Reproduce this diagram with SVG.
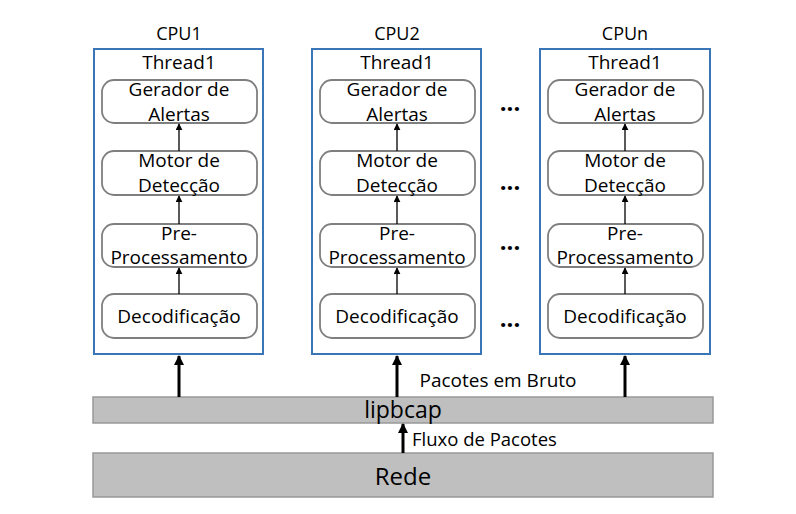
<svg xmlns="http://www.w3.org/2000/svg" width="796" height="514" viewBox="0 0 796 514">
<defs>
<marker id="a" viewBox="0 0 10 10" refX="9" refY="5" markerWidth="7" markerHeight="7" orient="auto" markerUnits="userSpaceOnUse"><path d="M0,0 L10,5 L0,10 z" fill="#000"/></marker>
<marker id="b" viewBox="0 0 10 10" refX="9" refY="5" markerWidth="10" markerHeight="10" orient="auto" markerUnits="userSpaceOnUse"><path d="M0,0 L10,5 L0,10 z" fill="#000"/></marker>
</defs>
<style>
text{font-family:"Open Sans","Liberation Sans",sans-serif;fill:#000;text-anchor:middle}
.cpu{fill:#fff;stroke:#3a75b8;stroke-width:2}
.st{fill:#fff;stroke:#7f7f7f;stroke-width:1.8}
.bar{fill:#bfbfbf;stroke:#999;stroke-width:1.5}
.t{font-size:19px}
.h{font-size:18px}
.thin{stroke:#000;stroke-width:1.3;marker-end:url(#a)}
.thick{stroke:#000;stroke-width:3;marker-end:url(#b)}
.dots{font-size:24px;font-weight:bold}
</style>
<rect width="796" height="514" fill="#fff"/>
<g id="cpu1">
<text x="179" y="40" class="h">CPU1</text>
<rect x="94" y="49" width="169" height="305" class="cpu"/>
<text x="179" y="69" class="t">Thread1</text>
</g>
<g id="cpu2">
<text x="397" y="40" class="h">CPU2</text>
<rect x="312" y="49" width="169" height="305" class="cpu"/>
<text x="397" y="69" class="t">Thread1</text>
</g>
<g id="cpun">
<text x="625" y="40" class="h">CPUn</text>
<rect x="540" y="49" width="170" height="305" class="cpu"/>
<text x="625" y="69" class="t">Thread1</text>
</g>
<g id="ger1"><rect x="102" y="80" width="155" height="43" rx="12" class="st"/><text x="179" y="96" class="t">Gerador de</text><text x="179" y="121" class="t">Alertas</text></g>
<g id="mot1"><rect x="102" y="151" width="155" height="44" rx="12" class="st"/><text x="179" y="167" class="t">Motor de</text><text x="179" y="192" class="t">Detecção</text></g>
<g id="pre1"><rect x="102" y="224" width="155" height="43" rx="12" class="st"/><text x="179" y="240" class="t">Pre-</text><text x="179" y="264" class="t">Processamento</text></g>
<g id="dec1"><rect x="102" y="294" width="155" height="44" rx="12" class="st"/><text x="179" y="323" class="t">Decodificação</text></g>
<g id="ger2"><rect x="320" y="80" width="155" height="43" rx="12" class="st"/><text x="397" y="96" class="t">Gerador de</text><text x="397" y="121" class="t">Alertas</text></g>
<g id="mot2"><rect x="320" y="151" width="155" height="44" rx="12" class="st"/><text x="397" y="167" class="t">Motor de</text><text x="397" y="192" class="t">Detecção</text></g>
<g id="pre2"><rect x="320" y="224" width="155" height="43" rx="12" class="st"/><text x="397" y="240" class="t">Pre-</text><text x="397" y="264" class="t">Processamento</text></g>
<g id="dec2"><rect x="320" y="294" width="155" height="44" rx="12" class="st"/><text x="397" y="323" class="t">Decodificação</text></g>
<g id="gern"><rect x="548" y="80" width="155" height="43" rx="12" class="st"/><text x="625" y="96" class="t">Gerador de</text><text x="625" y="121" class="t">Alertas</text></g>
<g id="motn"><rect x="548" y="151" width="155" height="44" rx="12" class="st"/><text x="625" y="167" class="t">Motor de</text><text x="625" y="192" class="t">Detecção</text></g>
<g id="pren"><rect x="548" y="224" width="155" height="43" rx="12" class="st"/><text x="625" y="240" class="t">Pre-</text><text x="625" y="264" class="t">Processamento</text></g>
<g id="decn"><rect x="548" y="294" width="155" height="44" rx="12" class="st"/><text x="625" y="323" class="t">Decodificação</text></g>
<g id="dots">
<text x="510" y="111" class="dots">...</text>
<text x="510" y="190" class="dots">...</text>
<text x="510" y="250" class="dots">...</text>
<text x="510" y="327" class="dots">...</text>
</g>
<g id="lipbcap"><rect x="93" y="397" width="620" height="26" class="bar"/><text x="403" y="418" font-size="23">lipbcap</text></g>
<g id="rede"><rect x="93" y="453" width="620" height="44" class="bar"/><text x="403" y="485" font-size="24">Rede</text></g>
<g id="connectors">
<line x1="179" y1="151" x2="179" y2="124" class="thin"/>
<line x1="179" y1="224" x2="179" y2="196" class="thin"/>
<line x1="179" y1="294" x2="179" y2="268" class="thin"/>
<line x1="397" y1="151" x2="397" y2="124" class="thin"/>
<line x1="397" y1="224" x2="397" y2="196" class="thin"/>
<line x1="397" y1="294" x2="397" y2="268" class="thin"/>
<line x1="625" y1="151" x2="625" y2="124" class="thin"/>
<line x1="625" y1="224" x2="625" y2="196" class="thin"/>
<line x1="625" y1="294" x2="625" y2="268" class="thin"/>
<line x1="179" y1="397" x2="179" y2="356" class="thick"/>
<line x1="397" y1="397" x2="397" y2="356" class="thick"/>
<line x1="625" y1="397" x2="625" y2="356" class="thick"/>
<line x1="403" y1="453" x2="403" y2="424" class="thick"/>
<text x="498" y="387" font-size="19">Pacotes em Bruto</text>
<text x="412" y="446" font-size="18.5" style="text-anchor:start">Fluxo de Pacotes</text>
</g>
</svg>
